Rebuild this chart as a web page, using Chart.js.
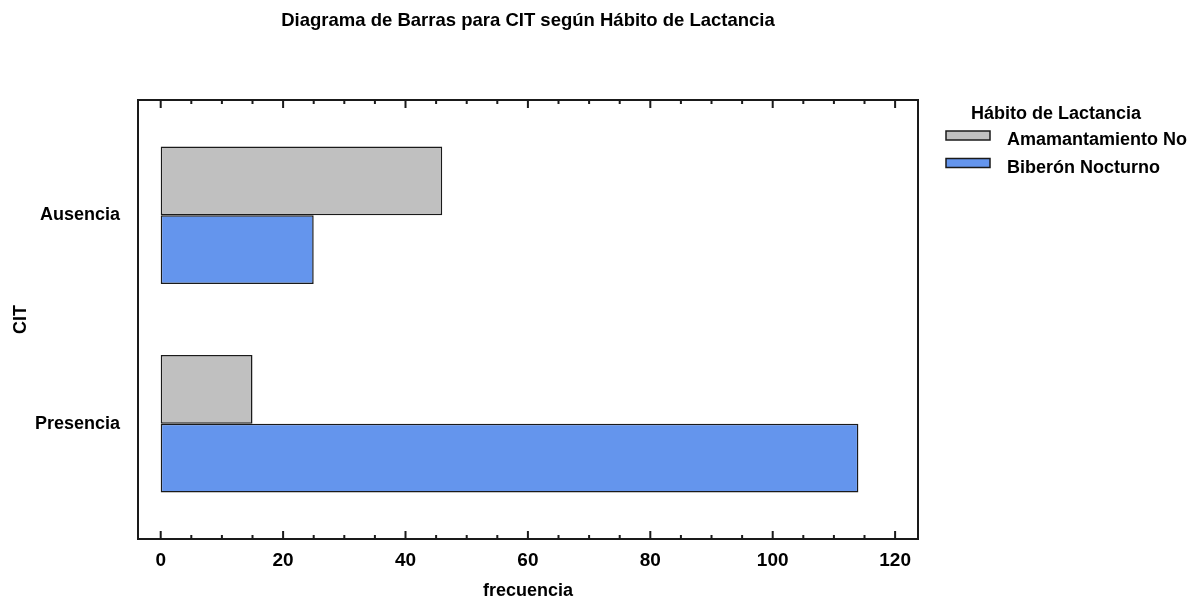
<!DOCTYPE html>
<html lang="es">
<head>
<meta charset="utf-8">
<title>Diagrama de Barras para CIT según Hábito de Lactancia</title>
<script src="https://cdn.jsdelivr.net/npm/chart.js@4"></script>
<style>
    body {
        margin: 0;
        background: #ffffff;
    }

    #contenedor {
        width: 1194px;
        height: 605px;
    }
</style>
</head>
<body>
<div id="contenedor">
    <canvas id="barChart"></canvas>
</div>
<script>

const CATEGORIAS = [
    "Ausencia",
    "Presencia"
];

const SERIES = [
    "Amamantamiento No",
    "Biberón Nocturno"
];

const AMAMANTAMIENTO_NO = [46, 15];
const BIBERON_NOCTURNO = [25, 114];

const TICKS_X = [
    0, 5, 10, 15, 20, 25, 30, 35, 40, 45, 50, 55, 60,
    65, 70, 75, 80, 85, 90, 95, 100, 105, 110, 115, 120
];

const ETIQUETAS_X = [0, 20, 40, 60, 80, 100, 120];

const COLORES = [
    "#c0c0c0",
    "#6495ed"
];

const FUENTE = "'Liberation Sans', Arial, sans-serif";
const TINTA = "#1a1a1a";

// leyenda dibujada a mano para dejarla como en el original
const leyendaPlugin = {
    id: "leyendaHabito",
    afterDraw(chart) {
        const ctx = chart.ctx;

        ctx.save();
        ctx.fillStyle = "#000000";
        ctx.font = "bold 18px " + FUENTE;
        ctx.textAlign = "center";
        ctx.textBaseline = "alphabetic";
        ctx.fillText("Hábito de Lactancia", 1056, 119);

        ctx.textAlign = "left";
        SERIES.forEach((serie, i) => {
            const y = 131 + i * 27.5;

            ctx.fillStyle = COLORES[i];
            ctx.fillRect(946, y, 44, 9);
            ctx.strokeStyle = TINTA;
            ctx.lineWidth = 1.5;
            ctx.strokeRect(946, y, 44, 9);

            ctx.fillStyle = "#000000";
            ctx.fillText(serie, 1007, y + 14);
        });
        ctx.restore();
    }
};

// marco del gráfico y marcas hacia dentro en el eje de frecuencia
const marcoPlugin = {
    id: "marco",
    afterDatasetsDraw(chart) {
        const ctx = chart.ctx;
        const area = chart.chartArea;
        const escalaX = chart.scales.x;

        ctx.save();
        ctx.strokeStyle = TINTA;
        ctx.lineWidth = 2;
        ctx.strokeRect(
            area.left,
            area.top,
            area.right - area.left,
            area.bottom - area.top
        );

        TICKS_X.forEach(valor => {
            const px = escalaX.getPixelForValue(valor);
            const largo = ETIQUETAS_X.includes(valor) ? 8 : 4;

            ctx.beginPath();
            ctx.moveTo(px, area.bottom);
            ctx.lineTo(px, area.bottom - largo);
            ctx.moveTo(px, area.top);
            ctx.lineTo(px, area.top + largo);
            ctx.stroke();
        });
        ctx.restore();
    }
};

function crearGraficoBarras() {

    const ctx =
        document.getElementById(
            "barChart"
        );

    const series = [
        AMAMANTAMIENTO_NO,
        BIBERON_NOCTURNO
    ];

    const datasets =
        series.map((valores, i) => ({
            label: SERIES[i],
            data: valores.map((v, j) => ({ x: v, y: j })),
            backgroundColor: COLORES[i],
            borderColor: TINTA,
            borderWidth: 1.5,
            borderSkipped: false,
            categoryPercentage: 0.66,
            barPercentage: 1
        }));

    window.barChartInstance =
        new Chart(ctx, {

            type: "bar",

            data: {
                datasets
            },

            plugins: [marcoPlugin, leyendaPlugin],

            options: {
                indexAxis: "y",
                responsive: true,
                maintainAspectRatio: false,
                animation: false,
                layout: {
                    padding: {
                        top: 0,
                        right: 276,
                        bottom: 0,
                        left: 0
                    }
                },
                plugins: {
                    legend: { display: false },
                    tooltip: { enabled: false },
                    title: {
                        display: true,
                        fullSize: false,
                        text: "Diagrama de Barras para CIT según Hábito de Lactancia",
                        color: "#000000",
                        font: {
                            family: FUENTE,
                            size: 18.5,
                            weight: "bold"
                        },
                        padding: {
                            top: 10,
                            bottom: 67.8
                        }
                    }
                },
                scales: {
                    x: {
                        type: "linear",
                        position: "bottom",
                        min: -3.71,
                        max: 123.74,
                        grid: {
                            display: false,
                            drawTicks: false
                        },
                        border: { display: false },
                        afterBuildTicks(escala) {
                            escala.ticks = TICKS_X.map(v => ({ value: v }));
                        },
                        afterFit(escala) {
                            escala.height = 66;
                        },
                        ticks: {
                            autoSkip: false,
                            maxRotation: 0,
                            padding: 10,
                            color: "#000000",
                            font: {
                                family: FUENTE,
                                size: 19,
                                weight: "bold"
                            },
                            callback(valor) {
                                return ETIQUETAS_X.includes(valor) ? valor : "";
                            }
                        },
                        title: {
                            display: true,
                            text: "frecuencia",
                            color: "#000000",
                            padding: { top: 0, bottom: 3 },
                            font: {
                                family: FUENTE,
                                size: 18,
                                weight: "bold"
                            }
                        }
                    },
                    y: {
                        type: "linear",
                        reverse: true,
                        offset: false,
                        min: -0.553,
                        max: 1.553,
                        grid: {
                            display: false,
                            drawTicks: false
                        },
                        border: { display: false },
                        afterBuildTicks(escala) {
                            escala.ticks = CATEGORIAS.map((c, i) => ({ value: i }));
                        },
                        afterFit(escala) {
                            escala.width = 138;
                        },
                        ticks: {
                            autoSkip: false,
                            padding: 18,
                            color: "#000000",
                            font: {
                                family: FUENTE,
                                size: 18,
                                weight: "bold"
                            },
                            callback(valor) {
                                return CATEGORIAS[valor];
                            }
                        },
                        title: {
                            display: true,
                            text: "CIT",
                            color: "#000000",
                            padding: { top: 10, bottom: 0 },
                            font: {
                                family: FUENTE,
                                size: 18,
                                weight: "bold"
                            }
                        }
                    }
                }
            }

        });
}

crearGraficoBarras();

</script>
</body>
</html>
